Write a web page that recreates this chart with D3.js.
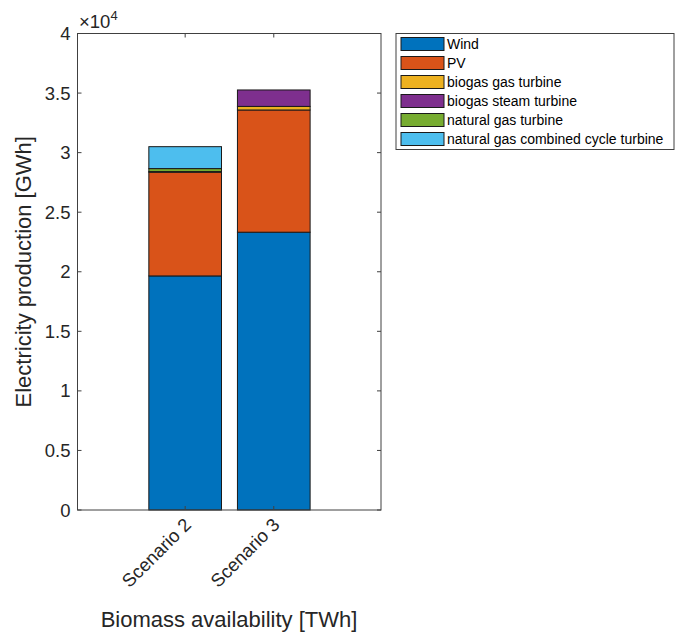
<!DOCTYPE html>
<html><head><meta charset="utf-8">
<script src="https://cdn.jsdelivr.net/npm/d3@7"></script>
<style>body{margin:0;background:#fff}text{font-family:"Liberation Sans",Arial,sans-serif}</style>
</head><body><svg id="c" width="683" height="635"></svg>
<script>
const categories = ["Scenario 2", "Scenario 3"];
const seriesNames = ["Wind", "PV", "biogas gas turbine", "biogas steam turbine", "natural gas turbine", "natural gas combined cycle turbine"];
const wind = [19650, 23320];
const pv = [8700, 10260];
const biogasGas = [60, 300];
const biogasSteam = [0, 1380];
const natGasTurbine = [250, 0];
const natGasCC = [1840, 0];
const colors = ["#0072BD", "#D95319", "#EDB120", "#7E2F8E", "#77AC30", "#4DBEEE"];
const yTicks = [0, 0.5, 1, 1.5, 2, 2.5, 3, 3.5, 4];

const series = [wind, pv, biogasGas, biogasSteam, natGasTurbine, natGasCC];
const svg = d3.select("#c");
const L = 77.5, R = 381, T = 33.5, B = 510;
const x = d3.scaleLinear().domain([-1.215, 2.21]).range([L, R]);
const y = d3.scaleLinear().domain([0, 40000]).range([B, T]);
const barW = (x(1) - x(0)) * 0.82;
const tickFont = 18.5, labelFont = 22;

const rows = categories.map((c, i) => { const o = {cat: c, i}; seriesNames.forEach((s, k) => o[s] = series[k][i]); return o; });
const stacked = d3.stack().keys(seriesNames)(rows);

svg.append("rect").attr("x", L).attr("y", T).attr("width", R - L).attr("height", B - T).attr("fill", "#fff");

stacked.forEach((layer, k) => {
  svg.append("g").selectAll("rect").data(layer).join("rect")
    .filter(d => d[1] - d[0] > 0)
    .attr("x", d => x(d.data.i) - barW / 2)
    .attr("width", barW)
    .attr("y", d => y(d[1]))
    .attr("height", d => y(d[0]) - y(d[1]))
    .attr("fill", colors[k])
    .attr("stroke", "#1a1a1a").attr("stroke-width", 1);
});

// axes box
const ax = svg.append("g").attr("fill", "none").attr("stroke", "#404040").attr("stroke-width", 1);
ax.append("rect").attr("x", L).attr("y", T).attr("width", R - L).attr("height", B - T);

// y ticks
yTicks.forEach(t => {
  const yy = y(t * 10000);
  ax.append("line").attr("x1", L).attr("x2", L + 4).attr("y1", yy).attr("y2", yy);
  ax.append("line").attr("x1", R).attr("x2", R - 4).attr("y1", yy).attr("y2", yy);
  svg.append("text").attr("x", L - 7).attr("y", yy + 6.5).attr("text-anchor", "end")
    .attr("font-size", tickFont).attr("fill", "#262626").text(t);
});
// x ticks
categories.forEach((c, i) => {
  const xx = x(i);
  ax.append("line").attr("x1", xx).attr("x2", xx).attr("y1", B).attr("y2", B - 4);
  ax.append("line").attr("x1", xx).attr("x2", xx).attr("y1", T).attr("y2", T + 4);
  svg.append("text").attr("transform", `translate(${xx + 7},${B + 16}) rotate(-45)`)
    .attr("text-anchor", "end").attr("font-size", tickFont).attr("fill", "#262626").text(c);
});

// exponent
const ex = svg.append("text").attr("x", 79).attr("y", 28).attr("font-size", tickFont).attr("fill", "#262626");
ex.append("tspan").text("\u00d710");
ex.append("tspan").attr("dy", -8).attr("font-size", 13).text("4");

// axis labels
svg.append("text").attr("x", 229).attr("y", 627).attr("text-anchor", "middle").attr("font-size", labelFont).attr("fill", "#262626").text("Biomass availability [TWh]");
svg.append("text").attr("transform", `translate(31,${(T + B) / 2}) rotate(-90)`).attr("text-anchor", "middle").attr("font-size", labelFont).attr("fill", "#262626").text("Electricity production [GWh]");

// legend
const lg = svg.append("g");
lg.append("rect").attr("x", 396).attr("y", 33.5).attr("width", 278).attr("height", 116).attr("fill", "#fff").attr("stroke", "#404040").attr("stroke-width", 1);
seriesNames.forEach((s, k) => {
  const yy = 37.5 + k * 19;
  lg.append("rect").attr("x", 401).attr("y", yy).attr("width", 43).attr("height", 13).attr("fill", colors[k]).attr("stroke", "#1a1a1a");
  lg.append("text").attr("x", 447).attr("y", yy + 11.5).attr("font-size", 14).attr("fill", "#000").text(s);
});
</script></body></html>
